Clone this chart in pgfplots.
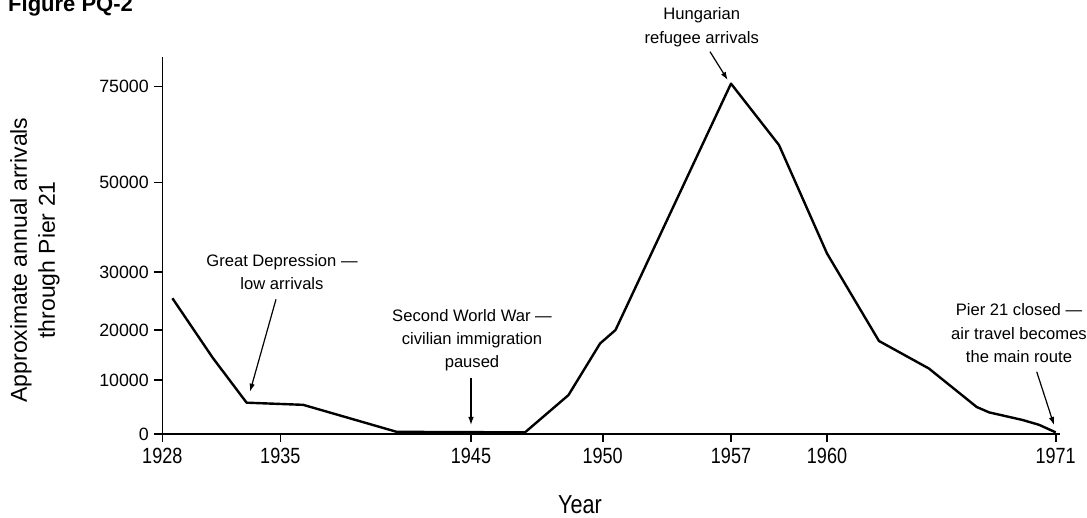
\documentclass[border=0pt]{standalone}
\usepackage{fontspec}
\setmainfont{Liberation Sans}
\usepackage{graphicx}
\usepackage{xfp}
\usepackage{pgfplots}
\pgfplotsset{compat=1.18}
\usetikzlibrary{arrows.meta}
\newcommand\annfont{\fontsize{16.6}{20}\selectfont}
\newcommand\xt[1]{\scalebox{0.82}[1]{#1}}
\newcommand\tosci[1]{\pgfmathfloatparsenumber{#1}\pgfmathfloattosci{\pgfmathresult}\let\tmpv\pgfmathresult}
\begin{document}
\begin{tikzpicture}[x=1pt,y=1pt]
\path[use as bounding box] (0,0) rectangle (1087,518);
\begin{axis}[
  at={(162.3pt,84pt)}, anchor=south west,
  x=1pt, y=1pt,
  x coord trafo/.code={\tosci{#1}\edef\pgfmathresult{\fpeval{round((\tmpv<1935) ? (162.3+(\tmpv-1928)*118/7) : ((\tmpv<1945) ? (280.3+(\tmpv-1935)*19.07) : ((\tmpv<1950) ? (471+(\tmpv-1945)*26.34) : ((\tmpv<1957) ? (602.7+(\tmpv-1950)*128.3/7) : ((\tmpv<1960) ? (731+(\tmpv-1957)*32) : (827+(\tmpv-1960)*20.79))))),3)}}},
  y coord trafo/.code={\tosci{#1}\edef\pgfmathresult{\fpeval{round((\tmpv<10000) ? (\tmpv*0.0054) : ((\tmpv<20000) ? (54+(\tmpv-10000)*0.005) : ((\tmpv<30000) ? (104+(\tmpv-20000)*0.00577) : ((\tmpv<50000) ? (161.7+(\tmpv-30000)*0.00448) : (251.3+(\tmpv-50000)*0.00384)))),3)}}},
  xmin=1928, xmax=1971.2, ymin=0, ymax=82800,
  axis lines=left,
  axis line style={-, line width=1.6pt, black},
  xtick={1928,1935,1945,1950,1957,1960,1971},
  xticklabels={\xt{1928},\xt{1935},\xt{1945},\xt{1950},\xt{1957},\xt{1960},\xt{1971}},
  ytick={0,10000,20000,30000,50000,75000},
  yticklabels={0,10000,20000,30000,50000,75000},
  tick align=outside, major tick length=8pt,
  major tick style={line width=1.6pt, black},
  yticklabel style={font=\fontsize{17.8}{20}\selectfont, xshift=-2pt},
  xticklabel style={font=\fontsize{22}{24}\selectfont, yshift=-3pt},
  clip=false,
]
\addplot[black, line width=2.4pt, line join=round, no marks, sharp plot] coordinates {
(1928.6,25500)
(1931,14400)
(1933,5800)
(1936.2,5400)
(1941.1,400)
(1947.05,300)
(1948.7,7200)
(1949.9,17300)
(1950.7,20000)
(1957,75800)
(1958.5,59800)
(1960,34200)
(1962.5,17800)
(1964.9,12300)
(1967.2,5000)
(1967.8,4000)
(1969.4,2600)
(1970.2,1700)
(1971,300)
};
\end{axis}
% title
\node[anchor=base west, inner sep=0, font=\fontsize{22}{24}\selectfont\bfseries] at (8,506) {Figure PQ-2};
% axis labels
\node[font=\fontsize{23}{28}\selectfont, align=center, rotate=90, anchor=center] at (35,258) {Approximate annual arrivals\\through Pier 21};
\node[font=\fontsize{26}{28}\selectfont, anchor=base, inner sep=0] at (580,4) {\scalebox{0.83}[1]{Year}};
% annotations
\node[font=\annfont, anchor=base] at (701.7,498) {Hungarian};
\node[font=\annfont, anchor=base] at (701.7,474) {refugee arrivals};
\draw[line width=1.2pt, -{Latex[length=8pt,width=5.5pt]}] (710,466.3) -- (727.7,438);
\node[font=\annfont, anchor=base] at (282,251.3) {Great Depression —};
\node[font=\annfont, anchor=base] at (282,228) {low arrivals};
\draw[line width=1.2pt, -{Latex[length=8pt,width=5.5pt]}] (276,218.7) -- (250,126.3);
\node[font=\annfont, anchor=base] at (472,196.3) {Second World War —};
\node[font=\annfont, anchor=base] at (472,173) {civilian immigration};
\node[font=\annfont, anchor=base] at (472,150) {paused};
\draw[line width=1.2pt, -{Latex[length=8pt,width=5.5pt]}] (471,139.7) -- (471,93);
\node[font=\annfont, anchor=base] at (1019,202) {Pier 21 closed —};
\node[font=\annfont, anchor=base] at (1019,178.5) {air travel becomes};
\node[font=\annfont, anchor=base] at (1019,155) {the main route};
\draw[line width=1.2pt, -{Latex[length=8pt,width=5.5pt]}] (1036.7,146.3) -- (1054,93);
\end{tikzpicture}
\end{document}
